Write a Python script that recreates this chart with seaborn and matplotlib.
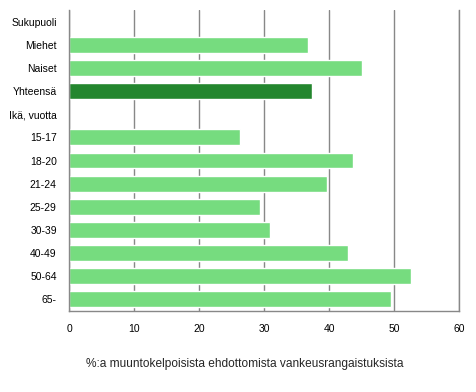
import numpy as np
import pandas as pd
import matplotlib
matplotlib.use('Agg')
import matplotlib.pyplot as plt
import seaborn as sns

# categories (header rows carry no value)
categories = ['Sukupuoli', 'Miehet', 'Naiset', 'Yhteensä', 'Ikä, vuotta',
              '15-17', '18-20', '21-24', '25-29', '30-39', '40-49', '50-64', '65-']
values = [np.nan, 36.7, 45.0, 37.3, np.nan,
          26.2, 43.6, 39.6, 29.4, 30.8, 42.8, 52.5, 49.4]
groups = ['head', 'bar', 'bar', 'total', 'head',
          'bar', 'bar', 'bar', 'bar', 'bar', 'bar', 'bar', 'bar']
x_ticks = [0, 10, 20, 30, 40, 50, 60]
x_label = '%:a muuntokelpoisista ehdottomista vankeusrangaistuksista'

df = pd.DataFrame({'cat': categories, 'val': values, 'grp': groups})

sns.set_style('white')
plt.rcParams['font.family'] = ['Liberation Sans', 'DejaVu Sans']

fig = plt.figure(figsize=(4.76, 3.92), dpi=100)
ax = fig.add_axes([0.1456, 0.2066, 0.8197, 0.7679])

palette = {'head': '#76dc7f', 'bar': '#76dc7f', 'total': '#23862e'}
sns.barplot(data=df, y='cat', x='val', hue='grp', order=categories,
            palette=palette, dodge=False, legend=False, width=0.69,
            saturation=1, orient='h', errorbar=None, ax=ax)

ax.set_xlim(0, 60)
ax.set_xticks(x_ticks)
ax.set_xticklabels([str(t) for t in x_ticks])
ax.set_ylim(len(categories) - 0.5, -0.5)
ax.xaxis.grid(True, color='#888888', linewidth=1)
ax.set_axisbelow(True)
ax.spines['top'].set_visible(False)
for s in ['left', 'bottom', 'right']:
    ax.spines[s].set_color('#888888')
    ax.spines[s].set_linewidth(1)
ax.tick_params(axis='both', length=0, labelsize=7.5, colors='black')
ax.tick_params(axis='x', pad=9)
ax.tick_params(axis='y', pad=9)
ax.set_ylabel('')
ax.set_xlabel(x_label, fontsize=8.6, labelpad=17)
ax.xaxis.set_label_coords(0.449, -0.155)

fig.savefig('out.png', dpi=100)
